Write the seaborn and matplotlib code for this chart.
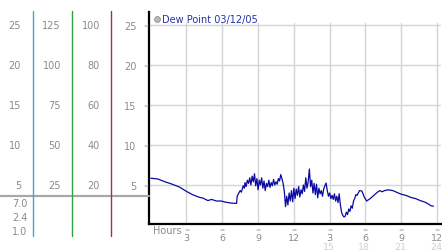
import numpy as np
import pandas as pd
import seaborn as sns
import matplotlib
matplotlib.use("Agg")
import matplotlib.pyplot as plt
import matplotlib.transforms as mtransforms
from matplotlib.lines import Line2D

# ---------------- data ----------------
hours = [0, 0.6, 1.2, 1.8, 2.4, 3.0, 3.5, 4.0, 4.4, 4.8, 5.1, 5.5, 5.9, 6.3, 6.7, 7.1, 7.2,
         7.25, 7.35, 7.5, 7.6, 7.75, 7.85,
         7.9, 8.0, 8.1, 8.2, 8.3, 8.4, 8.5, 8.6, 8.7, 8.8, 8.9, 9.0, 9.1, 9.2, 9.3, 9.4,
         9.5, 9.6, 9.7, 9.8, 9.9, 10.0, 10.1, 10.2, 10.3, 10.4, 10.5, 10.6, 10.7, 10.8,
         10.9, 11.0, 11.1, 11.2, 11.3,
         11.4, 11.5, 11.6, 11.7, 11.8, 11.9, 12.0, 12.1, 12.2, 12.3, 12.4, 12.5, 12.6,
         12.7, 12.8, 12.9, 13.0, 13.1, 13.2, 13.3, 13.4, 13.5, 13.6, 13.7, 13.8, 13.9,
         14.0, 14.1, 14.2, 14.3, 14.4, 14.5, 14.6, 14.7, 14.8, 14.9, 15.0, 15.1, 15.2,
         15.3, 15.4, 15.5, 15.6, 15.7, 15.8, 15.9, 16.0, 16.1, 16.2, 16.3, 16.4, 16.5,
         16.6, 16.7, 16.8, 16.9, 17.0, 17.1, 17.2, 17.3, 17.5, 17.7, 17.9, 18.1, 18.4,
         18.7, 19.0, 19.2, 19.4, 19.6, 19.9, 20.3, 20.6, 21.0, 21.4, 21.8, 22.2, 22.6,
         23.0, 23.3, 23.5, 23.7]
dew_point = [5.85, 5.75, 5.4, 5.1, 4.75, 4.2, 3.8, 3.5, 3.35, 3.05, 3.2, 3.0, 3.0, 2.85, 2.75, 2.7, 2.7,
             3.6, 3.9, 4.3, 4.1, 4.9, 4.6,
             5.3, 4.8, 5.6, 5.2, 5.9, 5.0, 6.1, 5.4, 6.4, 4.9, 5.8, 4.4, 5.6, 5.0, 5.9, 4.6,
             5.5, 4.3, 5.2, 4.8, 5.6, 4.7, 5.3, 4.9, 5.7, 5.0, 5.4, 5.1, 5.8, 5.5,
             6.3, 5.8, 5.2, 4.2, 2.3,
             3.6, 2.5, 4.0, 3.0, 4.3, 2.9, 4.6, 3.3, 4.5, 3.7, 4.8, 3.5, 4.4,
             3.9, 5.0, 4.2, 5.9, 4.6, 5.4, 7.0, 4.8, 5.6, 4.0, 5.2, 3.8, 5.1,
             3.4, 4.6, 3.9, 4.3, 3.6, 4.5, 4.9, 5.25, 4.3, 3.6, 4.0, 3.3, 3.7,
             3.2, 3.9, 3.0, 3.6, 2.8, 3.9, 2.5, 1.6, 1.2, 1.0, 1.1, 1.6, 1.3,
             2.0, 1.7, 2.4, 2.1, 3.0, 3.3, 3.8, 3.7, 4.3, 4.25, 3.5, 3.0, 3.3,
             3.7, 4.1, 4.3, 4.15, 4.3, 4.4, 4.3, 4.1, 3.85, 3.7, 3.45, 3.3, 3.05,
             2.85, 2.6, 2.4, 2.35]

series_label = "Dew Point 03/12/05"
y_ticks = [5, 10, 15, 20, 25]
x_ticks = [3, 6, 9, 12, 15, 18, 21, 24]
x_labels_top = ["3", "6", "9", "12", "3", "6", "9", "12"]
x_labels_bottom = ["", "", "", "", "15", "18", "21", "24"]
col1_labels = ["5", "10", "15", "20", "25"]
col2_labels = ["25", "50", "75", "100", "125"]
col3_labels = ["20", "40", "60", "80", "100"]
col1_lower = ["7.0", "2.4", "1.0"]

df = pd.DataFrame({"hour": hours, "dew": dew_point})

# ---------------- figure ----------------
sns.set_style("white")
plt.rcParams["font.family"] = ["DejaVu Sans"]
W, H = 442, 253
fig = plt.figure(figsize=(W / 100, H / 100), dpi=100)

def fx(px):
    return px / W

def fy(py):
    return 1 - py / H

ax_left, ax_right, ax_top, ax_bot = 149, 441, 13, 225
ax = fig.add_axes([fx(ax_left), fy(ax_bot), fx(ax_right - ax_left), (ax_bot - ax_top) / H])

# data scale: ~11.93 px / hour, hour 0 at x=150.7 ; 8 px / unit, 0 at y=226
PXH, X0 = 11.93, 150.7
ax.set_xlim((ax_left - X0) / PXH, (ax_right - X0) / PXH)
ax.set_ylim((226 - ax_bot) / 8, (226 - ax_top) / 8)

grid_col = "#d4d4d4"
for yv in y_ticks:
    ax.axhline(yv, color=grid_col, lw=1.0, zorder=0)
ytop_frac = (25.25 - ax.get_ylim()[0]) / (ax.get_ylim()[1] - ax.get_ylim()[0])
for xv in x_ticks:
    ax.axvline(xv, ymin=0, ymax=ytop_frac, color=grid_col, lw=1.0, zorder=0)

sns.lineplot(data=df, x="hour", y="dew", ax=ax, color="#0a0aa0", lw=0.9, zorder=3)
ax.set_xlabel("")
ax.set_ylabel("")

for s in ["top", "right"]:
    ax.spines[s].set_visible(False)
for s in ["left", "bottom"]:
    ax.spines[s].set_color("black")
    ax.spines[s].set_linewidth(1.6)

tick_col = "#8a8a8a"
ax.set_yticks(y_ticks)
ax.set_yticklabels([str(v) for v in y_ticks], color=tick_col, fontsize=7)
ax.tick_params(axis="y", length=0, pad=9)
ax.set_xticks(x_ticks)
ax.set_xticklabels(x_labels_top, color=tick_col, fontsize=6.8)
ax.tick_params(axis="x", length=0, pad=6.3)

# squiggle tick marks
ytrans = mtransforms.blended_transform_factory(fig.transFigure, ax.transData)
xtrans = mtransforms.blended_transform_factory(ax.transData, fig.transFigure)
for yv in y_ticks:
    fig.text(fx(146), yv, "≈", transform=ytrans, fontsize=4.5, color="#a0a0a0",
             ha="center", va="center")
for xv in x_ticks:
    fig.text(xv, fy(230.5), "≈", transform=xtrans, fontsize=4.5, color="#a0a0a0",
             ha="center", va="center")
for xv, lab in zip(x_ticks, x_labels_bottom):
    if lab:
        fig.text(xv - 0.1, fy(247.5), lab, transform=xtrans, fontsize=6.8, color="#cfcfcf",
                 ha="center", va="center")
fig.text(fx(153), fy(231.5), "Hours", fontsize=7, color=tick_col, ha="left", va="center")

# legend
handle = Line2D([], [], marker="o", linestyle="", markersize=4.2,
                markerfacecolor="#b8b8b8", markeredgecolor="#909090", markeredgewidth=0.6)
leg = ax.legend([handle], [series_label], loc="center left",
                bbox_to_anchor=(fx(155), fy(20.5)), bbox_transform=fig.transFigure,
                frameon=False, handlelength=0.5, handletextpad=0.25, fontsize=7,
                borderpad=0, borderaxespad=0)
for t in leg.get_texts():
    t.set_color("#2233aa")

# left scale columns
for yv, lab in zip(y_ticks, col1_labels):
    fig.text(fx(21), yv, lab, transform=ytrans, fontsize=7, color=tick_col, ha="right", va="center")
for yv, lab in zip(y_ticks, col2_labels):
    fig.text(fx(61), yv, lab, transform=ytrans, fontsize=7, color=tick_col, ha="right", va="center")
for yv, lab in zip(y_ticks, col3_labels):
    fig.text(fx(100), yv, lab, transform=ytrans, fontsize=7, color=tick_col, ha="right", va="center")
for py, lab in zip([204, 218, 232], col1_lower):
    fig.text(fx(27.5), fy(py), lab, fontsize=7, color=tick_col, ha="right", va="center")

fig.add_artist(Line2D([0, fx(ax_left)], [fy(197), fy(197)], transform=fig.transFigure,
                      color="#a8a8a8", lw=1.6))
for px, col in [(33.3, "#3aa8d0"), (72.3, "#2ea040"), (111, "#b03030")]:
    fig.add_artist(Line2D([fx(px), fx(px)], [fy(12), fy(237)], transform=fig.transFigure,
                          color=col, lw=1.0))

fig.savefig("out.png", dpi=100)
